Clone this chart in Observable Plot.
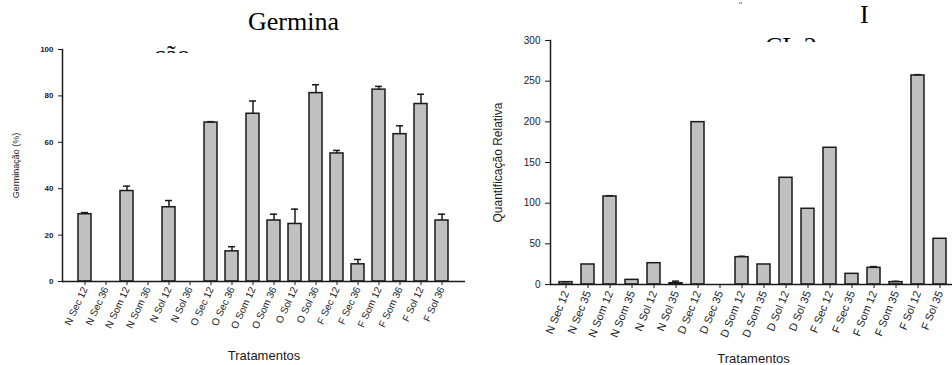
<!DOCTYPE html>
<html>
<head>
<meta charset="utf-8">
<script src="https://cdn.jsdelivr.net/npm/d3@7"></script>
<script src="https://cdn.jsdelivr.net/npm/@observablehq/plot@0.6"></script>
<style>
  html, body { margin: 0; padding: 0; background: #fff; }
  #wrap { position: relative; width: 952px; height: 365px; overflow: hidden; background: #fff; }
  #titles { position: absolute; left: 0; top: 0; }
  #left { position: absolute; left: 0; top: 0; width: 475px; }
  #right { position: absolute; left: 480px; top: 0; width: 486px; }
  #left svg, #right svg { max-width: none !important; }
</style>
</head>
<body>
<div id="wrap">
  <div id="left"></div>
  <div id="right"></div>
  <svg id="titles" width="952" height="365" font-family="'Liberation Serif', serif" font-size="26">
    <defs>
      <clipPath id="clipCao"><rect x="0" y="0" width="400" height="53"></rect></clipPath>
      <clipPath id="clipCL"><rect x="600" y="0" width="352" height="42"></rect></clipPath>
    </defs>
    <text x="248" y="30">Germina</text>
    <text x="154" y="63" clip-path="url(#clipCao)">ção</text>
    <text x="860" y="23">I</text>
    <text x="765" y="55" clip-path="url(#clipCL)">CL 2</text>
    <text x="739" y="8" font-size="9" font-family="'Liberation Sans', sans-serif" fill="#c0392b">"</text>
  </svg>
</div>
<script>
// Left panel: Germinação (%)
const catsL = ["N Sec 12","N Sec 36","N Som 12","N Som 36","N Sol 12","N Sol 36",
               "O Sec 12","O Sec 36","O Som 12","O Som 36","O Sol 12","O Sol 36",
               "F Sec 12","F Sec 36","F Som 12","F Som 36","F Sol 12","F Sol 36"];
const germ    = [29, 0, 39, 0, 32, 0, 68.5, 13, 72.3, 26.3, 24.8, 81.2, 55.2, 7.4, 82.7, 63.5, 76.5, 26.3];
const germErr = [0.7, 0, 2.1, 0, 2.9, 0, 0.4, 2, 5.5, 2.7, 6.4, 3.6, 1.3, 2.1, 1.4, 3.6, 4.2, 2.7];
const ticksL  = [0, 20, 40, 60, 80, 100];

// Right panel: Quantificação Relativa
const catsR = ["N Sec 12","N Sec 35","N Som 12","N Som 35","N Sol 12","N Sol 35",
               "D Sec 12","D Sec 35","D Som 12","D Som 35","D Sol 12","D Sol 35",
               "F Sec 12","F Sec 35","F Som 12","F Som 35","F Sol 12","F Sol 35"];
const quant    = [2.9, 24.6, 108.2, 5.7, 26.2, 1.6, 199.6, 0, 33.6, 24.6, 131.2, 93.1, 168.1, 13.1, 20.5, 2.9, 257, 56.2];
const quantErr = [0.5, 0, 1, 0, 0, 2.5, 0, 0, 1, 0, 0, 0, 0, 0, 1.5, 1, 1, 0];
const ticksR   = [0, 50, 100, 150, 200, 250, 300];

const rowsL = catsL.map((c, i) => ({c, v: germ[i], e: germErr[i]}));
const rowsR = catsR.map((c, i) => ({c, v: quant[i], e: quantErr[i]}));

const barStyle = {fill: "#c0c0c0", stroke: "#1a1a1a", strokeWidth: 1.5};
const ink = "#1a1a1a";

const left = Plot.plot({
  width: 475, height: 365,
  marginLeft: 62, marginRight: 10, marginTop: 49, marginBottom: 84,
  style: {fontFamily: "'Liberation Sans', Arial, sans-serif", background: "transparent", color: "#1a1a1a"},
  x: {domain: catsL, paddingInner: 0.38, paddingOuter: 0.72},
  y: {domain: [0, 100]},
  marks: [
    Plot.barY(rowsL.filter(d => d.v > 0), {x: "c", y: "v", ...barStyle}),
    Plot.ruleX(rowsL.filter(d => d.e > 0), {x: "c", y1: "v", y2: d => d.v + d.e, stroke: ink, strokeWidth: 1.5}),
    Plot.tickY(rowsL.filter(d => d.e > 0), {x: "c", y: d => d.v + d.e, stroke: ink, strokeWidth: 1.5, insetLeft: 3, insetRight: 3}),
    Plot.ruleY([0], {stroke: ink, strokeWidth: 1.5}),
    Plot.frame({anchor: "left", stroke: ink, strokeWidth: 1.5}),
    Plot.axisY({ticks: ticksL, tickSize: 4, tickPadding: 5, fontSize: 8, fontWeight: "bold", label: null}),
    Plot.axisY({ticks: [], tickSize: 0, label: "Germinação (%)", labelArrow: "none", labelAnchor: "center", labelOffset: 50, fontSize: 9}),
    Plot.axisX({tickRotate: -65, tickSize: 4, tickPadding: 2, fontSize: 10, label: null}),
    Plot.axisX({ticks: [], tickSize: 0, label: "Tratamentos", labelArrow: "none", labelAnchor: "center", labelOffset: 78, fontSize: 13})
  ]
});
document.getElementById("left").appendChild(left);

const right = Plot.plot({
  width: 486, height: 365,
  marginLeft: 70, marginRight: 10, marginTop: 40, marginBottom: 81,
  style: {fontFamily: "'Liberation Sans', Arial, sans-serif", background: "transparent", color: "#1a1a1a"},
  x: {domain: catsR, paddingInner: 0.4, paddingOuter: 0.28},
  y: {domain: [0, 300]},
  marks: [
    Plot.barY(rowsR.filter(d => d.v > 0), {x: "c", y: "v", ...barStyle}),
    Plot.ruleX(rowsR.filter(d => d.e > 0), {x: "c", y1: "v", y2: d => d.v + d.e, stroke: ink, strokeWidth: 1.5}),
    Plot.tickY(rowsR.filter(d => d.e > 0), {x: "c", y: d => d.v + d.e, stroke: ink, strokeWidth: 1.5, insetLeft: 3, insetRight: 3}),
    Plot.ruleY([0], {stroke: ink, strokeWidth: 1.5}),
    Plot.frame({anchor: "left", stroke: ink, strokeWidth: 1.5}),
    Plot.axisY({ticks: ticksR, tickSize: 5, tickPadding: 5, fontSize: 10, label: null}),
    Plot.axisY({ticks: [], tickSize: 0, label: "Quantificação Relativa", labelArrow: "none", labelAnchor: "center", labelOffset: 57, fontSize: 12}),
    Plot.axisX({tickRotate: -68, tickSize: 4, tickPadding: 3, fontSize: 11, label: null}),
    Plot.axisX({ticks: [], tickSize: 0, label: "Tratamentos", labelArrow: "none", labelAnchor: "center", labelOffset: 78, fontSize: 13})
  ]
});
document.getElementById("right").appendChild(right);
</script>
</body>
</html>
